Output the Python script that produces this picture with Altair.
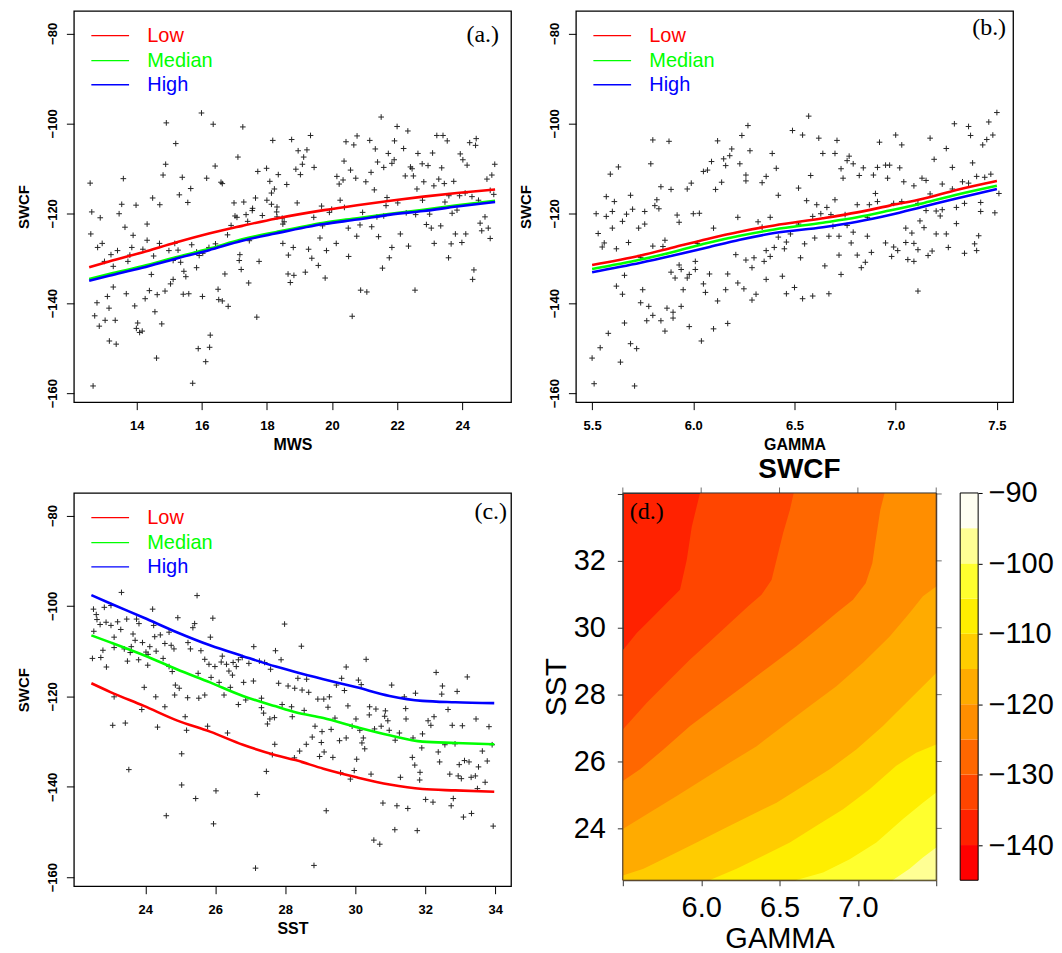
import altair as alt
import pandas as pd

SANS = "Liberation Sans"
SERIF = "Liberation Serif"

SERIES = ["Low", "Median", "High"]
SERIES_COLORS = ["#FF0000", "#00FF00", "#0000FF"]

# ---------------- panel (a): MWS vs SWCF ----------------
MWS_PTS = [
    (15.99, -97.7), (14.91, -99.9), (16.35, -100.2), (17.26, -100.8), (15.20, -104.5), (18.18, -103.8), (18.76, -103.6), (17.11, -107.5), (14.89, -109.1), (16.41, -109.5),
    (14.81, -111.5), (15.40, -112.0), (16.15, -112.2), (17.72, -110.7), (17.99, -110.0), (18.35, -111.4), (12.57, -113.3), (13.59, -112.3), (16.59, -113.1), (16.63, -113.4),
    (18.09, -112.9), (18.61, -113.6), (18.23, -114.6), (15.66, -114.5), (15.31, -115.9), (18.14, -115.5), (14.49, -116.6), (18.00, -117.1), (17.29, -117.5), (16.99, -117.7),
    (17.65, -116.6), (15.57, -117.6), (13.54, -118.0), (13.98, -118.2), (14.71, -118.1), (12.62, -119.7), (13.46, -120.1), (17.56, -118.9), (18.14, -118.0), (18.31, -118.6),
    (12.88, -121.0), (17.02, -120.6), (17.08, -120.9), (17.36, -120.3), (17.55, -119.4), (17.86, -120.5), (18.30, -119.7), (18.31, -120.8), (18.53, -121.9), (13.64, -123.1),
    (14.32, -122.4), (16.90, -122.7), (17.41, -121.8), (18.47, -121.1), (12.59, -124.6), (13.89, -124.9), (16.79, -124.8), (18.49, -122.4), (14.32, -126.0), (15.69, -127.0),
    (15.17, -126.7), (14.70, -126.7), (16.22, -127.6), (16.42, -126.8), (12.94, -126.7), (12.80, -127.6), (13.85, -127.6), (13.41, -128.3), (13.21, -129.2), (14.19, -128.0),
    (14.52, -129.5), (14.99, -128.3), (15.27, -128.2), (15.84, -128.6), (15.92, -129.4), (16.03, -128.9), (17.17, -129.2), (17.46, -126.1), (18.49, -126.7), (18.81, -127.6),
    (18.66, -129.3), (13.01, -130.7), (13.28, -131.8), (13.73, -130.7), (13.79, -129.3), (15.12, -130.5), (15.35, -130.9), (15.84, -132.1), (17.15, -130.5), (17.21, -132.5),
    (17.76, -130.7), (14.45, -133.6), (15.45, -132.9), (15.51, -134.1), (16.71, -133.5), (18.65, -133.5), (18.83, -133.8), (18.72, -135.4), (13.28, -136.4), (13.10, -138.5),
    (13.68, -137.9), (14.39, -137.2), (14.63, -138.1), (14.87, -137.3), (15.04, -135.7), (15.12, -134.7), (15.43, -138.0), (15.60, -137.9), (16.02, -138.5), (16.50, -136.9),
    (17.44, -135.5), (12.78, -139.9), (13.15, -141.1), (13.94, -140.6), (14.26, -139.0), (16.52, -139.2), (16.63, -139.5), (16.81, -140.7), (14.56, -141.9), (12.71, -142.8),
    (13.03, -143.8), (13.34, -143.8), (12.85, -145.1), (14.03, -144.4), (13.99, -145.6), (14.09, -146.5), (14.17, -146.2), (14.77, -144.6), (17.69, -143.1), (13.16, -148.4),
    (13.37, -149.1), (16.26, -147.1), (16.24, -149.8), (15.89, -150.1), (14.61, -152.2), (16.12, -153.0), (12.66, -158.4), (15.72, -157.8),
    (21.51, -98.6), (22.00, -100.7), (22.33, -101.7), (19.34, -102.7), (20.77, -102.8), (20.43, -104.1), (20.67, -104.8), (21.16, -103.8), (21.92, -103.9), (23.22, -102.7),
    (23.41, -102.7), (23.54, -103.9), (24.23, -104.3), (24.43, -103.4), (24.41, -104.9), (18.96, -106.1), (19.23, -105.9), (19.13, -107.5), (21.33, -105.7), (21.73, -106.7),
    (22.20, -105.6), (22.64, -106.7), (23.09, -106.6), (23.94, -106.8), (24.02, -108.1), (24.15, -109.3), (19.09, -109.1), (18.89, -110.2), (19.03, -111.4), (19.45, -109.8),
    (20.37, -108.4), (20.57, -110.4), (21.40, -108.6), (21.59, -109.8), (21.84, -108.9), (21.91, -108.1), (22.41, -109.7), (22.46, -110.1), (22.77, -109.0), (22.95, -109.4),
    (23.37, -109.9), (25.00, -109.1), (20.15, -111.8), (20.34, -112.6), (20.22, -113.5), (20.73, -112.2), (21.04, -113.0), (21.20, -110.9), (22.25, -111.7), (22.50, -111.7),
    (22.82, -113.0), (23.28, -112.4), (23.13, -113.9), (23.45, -113.4), (23.74, -112.9), (24.76, -112.4), (24.91, -111.5), (21.30, -114.8), (22.61, -114.6), (24.86, -114.9),
    (24.97, -115.8), (18.93, -117.7), (20.25, -117.1), (21.69, -116.5), (22.02, -117.7), (22.78, -117.1), (23.59, -116.1), (23.92, -116.1), (24.09, -115.5), (24.30, -116.3),
    (24.50, -117.1), (19.68, -118.4), (19.99, -119.1), (19.92, -119.8), (20.38, -118.7), (20.94, -119.8), (21.66, -118.3), (21.38, -120.8), (21.59, -120.6), (22.28, -119.9),
    (22.57, -120.3), (23.00, -120.2), (23.47, -117.5), (23.69, -120.0), (23.84, -119.3), (19.44, -120.9), (19.71, -122.8), (20.50, -123.3), (20.86, -122.6), (21.22, -123.0),
    (22.90, -122.5), (23.05, -123.3), (23.34, -122.8), (24.70, -120.8), (24.55, -122.2), (24.60, -123.9), (24.80, -123.3), (19.63, -125.5), (20.76, -125.1), (21.43, -125.2),
    (22.10, -124.6), (22.35, -127.3), (23.14, -126.7), (23.66, -126.8), (23.79, -124.6), (23.99, -126.5), (24.11, -124.6), (24.86, -125.6), (19.28, -128.0), (19.38, -130.0),
    (19.58, -131.6), (19.83, -128.3), (20.13, -126.7), (20.51, -129.6), (21.76, -129.9), (21.84, -127.6), (23.58, -129.9), (19.18, -133.1), (19.79, -134.4), (21.55, -132.2),
    (24.36, -132.6), (24.32, -134.7), (20.88, -137.1), (21.07, -137.5), (22.55, -137.1), (20.62, -142.9),
]
MWS_CURVE = [12.54, 13.15, 14.17, 15.20, 16.22, 17.24, 18.26, 19.75, 20.77, 21.79, 22.81, 23.84, 25.01]
MWS_LOW = [-132.0, -130.7, -128.7, -126.5, -124.5, -122.8, -121.2, -119.3, -118.2, -117.2, -116.3, -115.5, -114.7]
MWS_MED = [-134.6, -133.5, -131.8, -129.8, -127.9, -125.8, -124.2, -122.1, -121.1, -120.1, -119.2, -118.2, -117.2]
MWS_HIGH = [-135.0, -133.9, -132.1, -130.1, -128.2, -126.1, -124.5, -122.4, -121.4, -120.3, -119.5, -118.5, -117.5]

# ---------------- panel (b): GAMMA vs SWCF ----------------
GAMMA_PTS = [
    (6.27, -100.5), (6.24, -102.7), (6.49, -101.6), (5.80, -103.7), (5.88, -104.0), (6.12, -103.9), (6.28, -106.1), (6.19, -105.7), (6.18, -107.2), (6.39, -106.7),
    (6.15, -107.9), (6.09, -108.5), (5.79, -109.0), (6.23, -109.0), (6.16, -109.4), (5.63, -109.7), (5.59, -111.3), (6.05, -110.7), (6.07, -110.4), (6.26, -111.5),
    (6.41, -110.0), (6.36, -111.8), (6.26, -112.8), (6.34, -113.2), (6.14, -113.1), (5.99, -113.3), (5.97, -114.6), (5.84, -114.1), (5.89, -114.7), (6.11, -114.7),
    (6.42, -116.0), (5.57, -116.3), (5.69, -116.0), (5.82, -117.0), (5.61, -117.4), (5.81, -118.3), (5.83, -119.0), (5.70, -119.1), (5.60, -119.6), (5.52, -120.1),
    (5.57, -120.7), (5.67, -120.2), (5.76, -119.6), (6.00, -120.1), (6.03, -120.0), (5.92, -120.4), (5.93, -122.0), (5.65, -121.8), (5.76, -122.4), (5.73, -123.3),
    (5.60, -123.3), (6.22, -120.9), (6.10, -123.3), (6.32, -121.9), (6.34, -123.1), (6.38, -120.9), (5.53, -124.5), (5.56, -126.6), (5.55, -127.5), (5.62, -127.9),
    (5.68, -126.5), (5.80, -127.3), (5.86, -126.0), (5.85, -127.4), (6.02, -126.7), (6.42, -125.3), (6.45, -127.9), (6.46, -126.4), (6.48, -124.6), (6.36, -128.3),
    (6.40, -127.6), (6.21, -129.2), (6.38, -129.6), (6.26, -130.4), (6.30, -129.9), (6.35, -130.7), (5.74, -129.8), (6.01, -130.7), (5.93, -131.5), (5.94, -132.5),
    (6.01, -132.5), (5.89, -133.1), (5.98, -133.6), (5.97, -134.4), (5.91, -134.4), (6.08, -133.5), (6.17, -133.5), (6.29, -132.1), (5.66, -133.8), (6.36, -134.7),
    (6.44, -134.0), (5.62, -136.2), (5.65, -138.0), (6.05, -135.7), (6.06, -137.6), (5.95, -137.0), (6.22, -135.5), (6.25, -136.8), (6.16, -137.0), (6.31, -138.0),
    (6.29, -139.3), (6.46, -137.9), (5.75, -137.0), (6.12, -139.5), (5.74, -139.9), (5.78, -140.7), (5.87, -141.1), (5.90, -142.0), (5.94, -140.7), (5.80, -142.7),
    (5.77, -143.9), (5.84, -143.9), (5.90, -143.3), (5.86, -146.2), (5.98, -145.2), (6.10, -145.7), (6.17, -144.5), (5.66, -144.4), (5.58, -146.7), (6.04, -148.4),
    (5.54, -149.9), (5.69, -149.0), (5.72, -150.1), (5.50, -152.2), (5.64, -153.1), (5.51, -157.9), (5.71, -158.4),
    (6.57, -98.4), (6.54, -102.6), (6.62, -103.3), (6.71, -103.8), (6.64, -106.7), (6.70, -106.7), (6.77, -107.3), (6.76, -108.3), (6.79, -109.0), (6.92, -104.2),
    (7.00, -102.6), (7.03, -104.8), (7.17, -103.3), (7.25, -105.6), (7.29, -100.1), (7.36, -100.7), (7.37, -102.7), (7.46, -99.7), (7.50, -97.6), (7.48, -102.6),
    (7.45, -103.6), (7.43, -104.8), (7.19, -108.0), (7.38, -108.8), (7.28, -109.8), (6.73, -110.1), (6.74, -112.2), (6.84, -109.9), (6.82, -111.6), (6.89, -111.5),
    (6.91, -109.8), (6.95, -109.3), (6.97, -109.3), (7.02, -109.9), (6.96, -112.2), (6.58, -111.6), (6.52, -114.4), (7.04, -113.0), (7.09, -113.9), (7.13, -112.2),
    (7.15, -112.7), (7.23, -113.5), (7.28, -114.6), (7.33, -113.0), (7.36, -113.3), (7.40, -111.8), (7.44, -112.0), (7.47, -111.3), (7.51, -115.6), (6.56, -117.2),
    (6.61, -118.1), (6.70, -117.0), (6.59, -120.7), (6.63, -120.1), (6.66, -118.7), (6.68, -120.3), (6.75, -120.3), (6.81, -118.1), (6.87, -118.1), (6.90, -115.6),
    (6.91, -117.4), (6.86, -120.9), (6.99, -117.8), (7.03, -117.4), (7.11, -117.8), (7.17, -115.7), (7.15, -119.4), (7.20, -119.5), (7.23, -119.2), (7.22, -120.6),
    (7.30, -118.7), (7.34, -117.8), (7.42, -117.6), (7.42, -119.6), (7.49, -119.9), (6.52, -122.4), (6.60, -125.5), (6.55, -126.8), (6.67, -125.1), (6.69, -122.9),
    (6.72, -125.1), (6.76, -122.7), (6.79, -124.2), (6.78, -126.6), (6.86, -125.1), (7.12, -121.7), (7.14, -123.2), (7.05, -123.3), (7.08, -124.4), (7.20, -124.6),
    (7.25, -124.6), (7.30, -122.3), (7.41, -125.0), (6.53, -129.9), (6.72, -129.3), (6.81, -129.3), (6.88, -128.7), (6.85, -130.9), (6.83, -132.1), (6.95, -126.6),
    (6.98, -129.6), (6.99, -127.5), (7.01, -128.3), (7.05, -126.5), (7.09, -126.7), (7.11, -128.1), (7.06, -130.3), (7.09, -130.7), (7.16, -129.4), (7.18, -128.4),
    (7.26, -127.6), (7.34, -128.9), (7.39, -126.8), (7.40, -128.3), (6.65, -131.7), (6.73, -133.6), (6.50, -136.5), (6.54, -139.0), (6.59, -138.4), (6.67, -137.9),
    (7.11, -137.3),
]
GAMMA_CURVE = [5.50, 5.74, 5.90, 6.07, 6.23, 6.40, 6.64, 6.81, 6.97, 7.14, 7.30, 7.50]
GAMMA_LOW = [-131.5, -129.4, -127.6, -125.7, -124.1, -122.7, -121.1, -119.8, -118.3, -116.7, -114.8, -112.8]
GAMMA_MED = [-132.4, -130.3, -128.6, -126.6, -125.0, -123.6, -122.1, -120.9, -119.4, -117.7, -115.9, -113.9]
GAMMA_HIGH = [-133.1, -131.0, -129.4, -127.6, -125.9, -124.4, -123.1, -121.9, -120.4, -118.5, -116.7, -114.6]

# ---------------- panel (c): SST vs SWCF ----------------
SST_PTS = [
    (23.32, -97.0), (25.48, -97.7), (22.52, -100.7), (22.83, -100.3), (23.02, -99.9), (22.60, -101.9), (24.21, -100.7), (24.93, -102.6), (25.93, -102.7), (22.62, -103.0),
    (22.88, -103.6), (22.71, -104.1), (23.02, -104.3), (23.21, -103.5), (23.47, -102.9), (23.75, -102.9), (23.82, -103.9), (23.30, -105.2), (24.24, -104.3), (25.41, -103.9),
    (25.36, -104.8), (27.98, -104.0), (22.53, -105.6), (23.11, -106.9), (23.65, -106.2), (23.71, -107.6), (24.27, -106.8), (24.43, -106.4), (24.68, -105.8), (24.56, -108.3),
    (23.92, -108.1), (25.86, -106.9), (25.22, -108.1), (24.74, -108.7), (24.82, -109.5), (23.60, -109.0), (23.40, -109.5), (23.11, -109.2), (22.79, -109.8), (24.13, -109.0),
    (24.02, -110.2), (24.31, -110.0), (23.57, -110.3), (25.29, -109.5), (25.59, -109.9), (27.10, -109.0), (27.72, -109.9), (22.49, -111.6), (22.73, -111.4), (23.81, -111.9),
    (24.08, -110.7), (24.51, -111.6), (23.49, -112.2), (24.07, -113.1), (24.68, -113.4), (22.89, -113.5), (24.77, -114.5), (25.70, -111.8), (25.82, -112.9), (25.99, -113.4),
    (26.17, -112.4), (26.20, -111.1), (26.32, -112.9), (26.51, -112.5), (26.60, -113.4), (26.66, -111.9), (26.77, -111.4), (26.96, -112.7), (27.26, -112.2), (27.41, -112.5),
    (27.58, -114.0), (27.88, -111.9), (26.39, -114.4), (26.49, -115.3), (25.51, -114.9), (25.88, -115.8), (26.11, -116.9), (26.43, -118.0), (26.81, -116.9), (27.09, -116.6),
    (27.81, -117.1), (28.08, -117.7), (23.97, -118.0), (24.86, -117.5), (24.97, -118.2), (24.30, -120.1), (24.84, -119.7), (25.21, -120.3), (25.53, -120.4), (25.70, -119.7),
    (26.25, -119.7), (23.11, -120.1), (26.66, -121.8), (26.87, -120.8), (27.32, -120.4), (27.32, -122.5), (27.38, -123.7), (27.56, -125.0), (27.49, -126.1), (27.69, -124.7),
    (27.91, -121.8), (28.18, -122.3), (28.20, -124.5), (23.90, -122.9), (24.56, -122.3), (25.14, -124.5), (23.07, -126.4), (23.43, -125.9), (24.35, -126.8), (25.18, -127.5),
    (25.78, -126.6), (26.35, -128.1), (27.70, -130.6), (27.63, -132.9), (28.26, -133.6), (25.04, -132.7), (23.53, -136.2), (27.46, -136.6), (25.04, -139.6), (25.44, -142.6),
    (26.02, -140.9), (27.20, -141.7), (24.60, -146.4), (25.95, -148.2), (27.15, -158.0),
    (28.46, -108.9), (30.31, -111.8), (29.74, -113.5), (32.31, -114.7), (33.20, -115.7), (28.36, -116.0), (28.61, -116.2), (29.61, -116.0), (30.09, -116.4), (29.46, -117.5),
    (29.69, -118.7), (30.17, -117.4), (31.04, -117.5), (32.49, -117.7), (32.91, -118.9), (32.47, -119.5), (31.72, -119.3), (31.40, -120.1), (28.27, -118.2), (28.48, -118.6),
    (28.67, -119.1), (28.93, -120.6), (29.10, -120.6), (29.26, -120.1), (29.79, -122.1), (29.22, -122.4), (28.54, -123.1), (30.41, -122.3), (30.59, -122.8), (30.86, -123.2),
    (31.44, -122.7), (30.40, -124.1), (30.84, -124.4), (30.93, -125.4), (29.42, -124.8), (30.02, -125.0), (31.45, -125.0), (32.65, -122.9), (33.45, -125.0), (32.25, -124.5),
    (32.08, -125.4), (32.16, -126.4), (32.77, -126.4), (33.06, -126.5), (33.82, -126.7), (28.85, -126.6), (29.05, -127.8), (29.31, -127.3), (29.91, -126.6), (30.13, -127.5),
    (30.55, -127.2), (30.74, -126.6), (30.97, -127.5), (31.26, -128.1), (31.92, -128.3), (28.77, -129.0), (29.03, -130.2), (29.55, -129.8), (29.74, -129.2), (30.23, -129.2),
    (30.19, -130.3), (30.27, -131.6), (31.14, -129.7), (31.65, -129.2), (31.90, -131.4), (32.56, -130.7), (32.85, -130.5), (32.37, -132.3), (32.41, -134.5), (33.63, -132.1),
    (33.91, -130.7), (28.41, -132.1), (28.60, -130.6), (29.11, -132.3), (28.98, -133.3), (29.36, -133.5), (30.04, -133.9), (31.63, -133.5), (31.70, -135.2), (31.85, -136.8),
    (32.97, -135.1), (33.12, -134.2), (33.25, -134.5), (33.52, -135.6), (33.77, -134.3), (32.70, -137.2), (32.94, -137.6), (33.03, -138.2), (33.31, -137.9), (33.43, -137.6),
    (33.71, -139.0), (33.49, -140.4), (29.58, -136.9), (29.97, -136.4), (29.86, -138.3), (30.45, -137.2), (31.29, -137.9), (31.84, -138.5), (30.79, -143.6), (31.19, -144.2),
    (31.50, -144.8), (32.01, -142.8), (32.22, -143.4), (32.80, -142.6), (32.74, -144.2), (33.09, -146.7), (33.32, -145.9), (29.17, -145.3), (31.13, -149.5), (31.77, -149.7),
    (33.94, -148.7), (30.53, -151.8), (30.70, -152.7), (28.82, -157.4),
]
SST_CURVE = [22.46, 23.02, 23.96, 24.90, 25.85, 26.79, 27.73, 28.29, 29.09, 30.04, 30.98, 31.92, 32.86, 33.97]
SST_LOW = [-117.1, -119.1, -122.1, -125.3, -127.8, -130.7, -133.0, -134.1, -136.0, -137.9, -139.5, -140.5, -140.8, -141.1]
SST_MED = [-106.5, -108.1, -110.9, -114.0, -116.9, -119.9, -122.2, -123.5, -124.8, -126.8, -128.6, -130.0, -130.3, -130.6]
SST_HIGH = [-97.6, -99.5, -102.6, -105.8, -108.7, -111.1, -113.4, -114.6, -116.2, -118.0, -119.9, -121.0, -121.3, -121.5]

# ---------------- panel (d): SWCF contour bands over GAMMA x SST ----------------
# each contour line is given as SST (upper edge of the higher-valued region) along GAMMA
BASE_LEVEL_COLOR = "#FF2200"          # -140 .. -135 band (top-left)
CONTOUR_LEVELS = [-135, -130, -125, -120, -115, -110, -105, -100]
CONTOUR_COLORS = ["#FF4500", "#FF6700", "#FF8E00", "#FFAB00", "#FFCC00", "#FFEE00", "#FFFF2E", "#FFFF94"]
CONTOUR_GAMMA = [
    [5.40, 5.504, 5.589, 5.674, 5.780, 5.865, 5.908, 5.940, 5.971, 5.993, 6.00, 7.60],
    [5.40, 5.50, 5.653, 5.801, 5.929, 6.056, 6.184, 6.300, 6.385, 6.449, 6.481, 6.523, 6.566, 6.591, 6.60, 7.60],
    [5.40, 5.50, 5.610, 5.759, 5.929, 6.099, 6.269, 6.438, 6.608, 6.736, 6.863, 6.969, 7.050, 7.092, 7.114, 7.143, 7.171, 7.18, 7.60],
    [5.40, 5.50, 5.674, 5.844, 6.014, 6.184, 6.354, 6.523, 6.693, 6.863, 7.033, 7.203, 7.330, 7.415, 7.50, 7.60],
    [5.40, 5.50, 5.632, 5.801, 5.971, 6.141, 6.311, 6.481, 6.651, 6.820, 6.990, 7.160, 7.309, 7.415, 7.50, 7.60],
    [5.40, 5.98, 6.056, 6.226, 6.396, 6.566, 6.736, 6.906, 7.075, 7.245, 7.372, 7.50, 7.60],
    [5.40, 6.52, 6.608, 6.778, 6.948, 7.118, 7.288, 7.415, 7.50, 7.60],
    [5.40, 7.15, 7.224, 7.330, 7.415, 7.50, 7.60],
]
CONTOUR_SST = [
    [29.25, 29.35, 29.84, 30.24, 30.74, 31.14, 32.03, 33.02, 33.62, 34.04, 34.40, 34.40],
    [26.85, 26.96, 27.76, 28.45, 29.05, 29.59, 30.14, 30.64, 30.99, 31.43, 32.03, 32.83, 33.52, 34.04, 34.40, 34.40],
    [25.30, 25.42, 25.77, 26.36, 27.06, 27.66, 28.25, 28.85, 29.45, 29.94, 30.44, 30.84, 31.33, 31.93, 32.63, 33.52, 34.04, 34.40, 34.40],
    [23.88, 23.98, 24.48, 24.97, 25.47, 25.97, 26.46, 27.06, 27.66, 28.25, 28.95, 29.74, 30.44, 30.94, 31.23, 31.33],
    [22.50, 22.59, 22.79, 23.18, 23.58, 23.98, 24.38, 24.77, 25.27, 25.77, 26.36, 27.06, 27.76, 28.25, 28.65, 28.75],
    [22.00, 22.00, 22.46, 22.79, 23.18, 23.58, 24.08, 24.57, 25.17, 25.87, 26.26, 26.51, 26.61],
    [22.00, 22.00, 22.46, 22.68, 23.08, 23.58, 24.28, 24.77, 25.07, 25.17],
    [22.00, 22.00, 22.46, 22.79, 23.13, 23.43, 23.53],
]
CB_BREAKS = [-145, -140, -135, -130, -125, -120, -115, -110, -105, -100, -95, -90]
CB_COLORS = ["#FF0000", "#FF2200", "#FF4500", "#FF6700", "#FF8E00", "#FFAB00",
             "#FFCC00", "#FFEE00", "#FFFF2E", "#FFFF94", "#FFFFF2"]
CB_TICKS = [-140, -130, -120, -110, -100, -90]
D_GAMMA_TICKS = [5.5, 6.0, 6.5, 7.0, 7.5]
D_SST_TICKS = [24, 26, 28, 30, 32, 34]

PLUS = "M-1,0L1,0M0,-1L0,1"
SWCF_DOMAIN = [-162, -75]


def sc_xaxis(vals, fmt, title):
    return alt.Axis(values=vals, format=fmt, title=title, grid=False, domain=False,
                    tickSize=7.5, tickColor="black", tickWidth=1,
                    labelFont=SANS, labelFontSize=13, labelFontWeight="bold", labelColor="black",
                    labelPadding=10, labelFlush=False, labelOverlap=False,
                    titleFont=SANS, titleFontSize=16, titleFontWeight="bold", titleColor="black",
                    titlePadding=4, minExtent=30, maxExtent=30)


SC_YAXIS = alt.Axis(values=[-160, -140, -120, -100, -80], title="SWCF", grid=False, domain=False,
                    tickSize=7.5, tickColor="black", tickWidth=1,
                    labelFont=SANS, labelFontSize=13, labelFontWeight="bold", labelColor="black",
                    labelAngle=270, labelAlign="center", labelBaseline="bottom",
                    labelPadding=6.6, labelFlush=False, labelOverlap=False,
                    titleFont=SANS, titleFontSize=15, titleFontWeight="bold", titleColor="black",
                    titlePadding=12, minExtent=30, maxExtent=30)

LEG_Y = [24.7, 49.8, 74.0]


def scatter_panel(pts, cx, curves, xdom, xticks, xfmt, xtitle, tag, tag_x, tag_y, w, h):
    xs = alt.Scale(domain=xdom, nice=False, zero=False)
    ys = alt.Scale(domain=SWCF_DOMAIN, nice=False, zero=False)
    xax = sc_xaxis(xticks, xfmt, xtitle)
    df = pd.DataFrame(pts, columns=["x", "y"])
    layers = [alt.Chart(df).mark_point(shape=PLUS, size=32, filled=False, color="black",
                                       strokeWidth=1, opacity=0.85).encode(
        x=alt.X("x:Q", scale=xs, axis=xax), y=alt.Y("y:Q", scale=ys, axis=SC_YAXIS))]
    for name, col, vals in zip(SERIES, SERIES_COLORS, curves):
        ldf = pd.DataFrame({"x": cx, "y": vals})
        layers.append(alt.Chart(ldf).mark_line(color=col, strokeWidth=2.6, interpolate="monotone").encode(
            x=alt.X("x:Q", scale=xs, axis=xax), y=alt.Y("y:Q", scale=ys, axis=SC_YAXIS)))
    for i, (name, col) in enumerate(zip(SERIES, SERIES_COLORS)):
        ndf = pd.DataFrame({"name": [name]})
        layers.append(alt.Chart(ndf).mark_rule(color=col, strokeWidth=1.3).encode(
            x=alt.value(17.5), x2=alt.value(55.3), y=alt.value(LEG_Y[i])))
        layers.append(alt.Chart(ndf).mark_text(font=SANS, fontSize=20, align="left", baseline="middle",
                                               color=col).encode(
            x=alt.value(73.5), y=alt.value(LEG_Y[i]), text="name:N"))
    tdf = pd.DataFrame({"t": [tag]})
    layers.append(alt.Chart(tdf).mark_text(font=SERIF, fontSize=24, align="right", baseline="middle",
                                           color="black").encode(
        x=alt.value(tag_x), y=alt.value(tag_y), text="t:N"))
    return alt.layer(*layers).properties(width=w, height=h)


panel_a = scatter_panel(MWS_PTS, MWS_CURVE, [MWS_LOW, MWS_MED, MWS_HIGH], [12.07, 25.5],
                        [14, 16, 18, 20, 22, 24], "d", "MWS", "(a.)", 426, 24.2, 438, 392)
panel_b = scatter_panel(GAMMA_PTS, GAMMA_CURVE, [GAMMA_LOW, GAMMA_MED, GAMMA_HIGH], [5.42, 7.58],
                        [5.5, 6.0, 6.5, 7.0, 7.5], ".1f", "GAMMA", "(b.)", 431, 17.5, 438, 392)
panel_c = scatter_panel(SST_PTS, SST_CURVE, [SST_LOW, SST_MED, SST_HIGH], [21.96, 34.45],
                        [24, 26, 28, 30, 32, 34], "d", "SST", "(c.)", 434, 18.6, 438, 394)

# ---------------- panel (d) ----------------
D_W, D_H = 314, 388
gx = alt.Scale(domain=[5.5, 7.5], nice=False, zero=False)
sy = alt.Scale(domain=[22.45, 34.03], nice=False, zero=False)
D_XAX = alt.Axis(values=D_GAMMA_TICKS,
                 labelExpr="(datum.value < 5.75 || datum.value > 7.25) ? '' : format(datum.value, '.1f')",
                 title="GAMMA", grid=False, domain=False, tickSize=5.5, tickColor="#333333", tickWidth=1,
                 labelFont=SANS, labelFontSize=29, labelColor="black", labelPadding=8,
                 labelFlush=False, labelOverlap=False,
                 titleFont=SANS, titleFontSize=29, titleFontWeight="normal", titleColor="black",
                 titlePadding=4, minExtent=40, maxExtent=40)
D_YAX = alt.Axis(values=D_SST_TICKS, labelExpr="datum.value > 33 ? '' : datum.label",
                 title="SST", grid=False, domain=False, tickSize=5.5, tickColor="#333333", tickWidth=1,
                 labelFont=SANS, labelFontSize=29, labelColor="black", labelPadding=12,
                 labelFlush=False, labelOverlap=False,
                 titleFont=SANS, titleFontSize=30, titleFontWeight="normal", titleColor="black",
                 titlePadding=11, minExtent=40, maxExtent=40)

d_layers = []
for g, s, col in zip(CONTOUR_GAMMA, CONTOUR_SST, CONTOUR_COLORS):
    cdf = pd.DataFrame({"g": g, "s": s})
    d_layers.append(alt.Chart(cdf).mark_area(color=col, clip=True, orient="vertical",
                                             interpolate="linear", opacity=1).encode(
        x=alt.X("g:Q", scale=gx, axis=D_XAX),
        y=alt.Y("s:Q", scale=sy, axis=D_YAX)))

# frame drawn over the bands
d_layers.append(alt.Chart(pd.DataFrame({"f": [0]})).mark_rect(
    fillOpacity=0, stroke="#333333", strokeWidth=1).encode(
    x=alt.value(0), x2=alt.value(D_W), y=alt.value(0), y2=alt.value(D_H)))
# tick marks on the top and right edges (lattice style)
top_ticks = pd.DataFrame({"g": D_GAMMA_TICKS})
d_layers.append(alt.Chart(top_ticks).mark_tick(color="#333333", thickness=1, size=5.5,
                                               orient="vertical").encode(
    x=alt.X("g:Q", scale=gx, axis=D_XAX), y=alt.value(-2.75)))
right_ticks = pd.DataFrame({"s": D_SST_TICKS})
d_layers.append(alt.Chart(right_ticks).mark_tick(color="#333333", thickness=1, size=5.5,
                                                 orient="horizontal").encode(
    y=alt.Y("s:Q", scale=sy, axis=D_YAX), x=alt.value(D_W + 2.75)))
d_layers.append(alt.Chart(pd.DataFrame({"t": ["(d.)"]})).mark_text(
    font=SERIF, fontSize=24, align="left", baseline="middle", color="black").encode(
    x=alt.value(7), y=alt.value(19), text="t:N"))
d_layers.append(alt.Chart(pd.DataFrame({"t": ["SWCF"]})).mark_text(
    font=SANS, fontSize=28, fontWeight="bold", align="center", baseline="middle", color="black").encode(
    x=alt.value(177), y=alt.value(-23), text="t:N"))
d_main = alt.layer(*d_layers)

cb_scale = alt.Scale(domain=[-145, -90], nice=False, zero=False)
CB_AX = alt.Axis(orient="right", offset=42, values=CB_TICKS, title=None, grid=False, domain=False,
                 tickSize=4, tickColor="black", tickWidth=1,
                 labelFont=SANS, labelFontSize=29, labelColor="black", labelPadding=6,
                 labelFlush=False, labelOverlap=False)
cb_df = pd.DataFrame({"lo": CB_BREAKS[:-1], "hi": CB_BREAKS[1:], "col": CB_COLORS})
cb_rects = alt.Chart(cb_df).mark_rect(clip=False).encode(
    x=alt.value(338), x2=alt.value(356),
    y=alt.Y("lo:Q", scale=cb_scale, axis=CB_AX), y2="hi:Q",
    color=alt.Color("col:N", scale=None))
cb_frame = alt.Chart(pd.DataFrame({"lo": [CB_BREAKS[0]], "hi": [CB_BREAKS[-1]]})).mark_rect(
    clip=False, fillOpacity=0, stroke="black", strokeWidth=1).encode(
    x=alt.value(338), x2=alt.value(356),
    y=alt.Y("lo:Q", scale=cb_scale, axis=CB_AX), y2="hi:Q")
cbar = alt.layer(cb_rects, cb_frame)

panel_d = alt.layer(d_main, cbar).resolve_scale(y="independent").properties(
    width=D_W, height=D_H,
    view=alt.ViewBackground(fill=BASE_LEVEL_COLOR, stroke="#333333", strokeWidth=1))

top = alt.hconcat(panel_a, panel_b, spacing=65, bounds="flush")
bottom = alt.hconcat(panel_c, panel_d, spacing=112, bounds="flush")
chart = alt.vconcat(top, bottom, spacing=2).properties(
    padding={"left": 8, "top": 1, "right": 0, "bottom": 0}
).configure(font=SANS).configure_view(stroke="black", strokeWidth=1.3)

chart.save("out.html", embed_options={"renderer": "svg", "actions": False})
